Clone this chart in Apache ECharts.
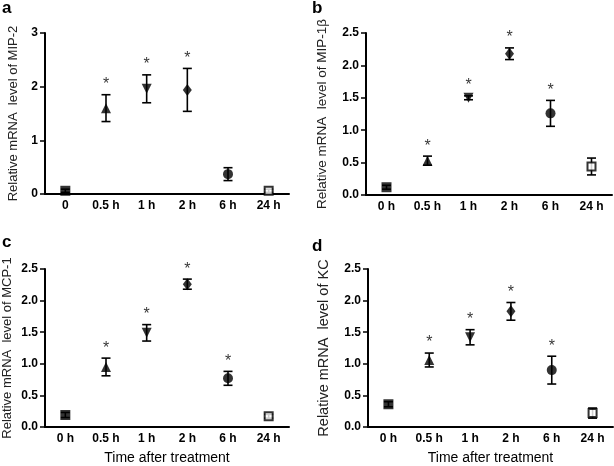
<!DOCTYPE html>
<html><head><meta charset="utf-8">
<script src="https://cdn.jsdelivr.net/npm/echarts@6/dist/echarts.min.js"></script>
<style>html,body{margin:0;padding:0;background:#fff}#c{width:614px;height:466px}</style>
</head><body><div id="c"></div>
<script>
const catsA = ['0','0.5 h','1 h','2 h','6 h','24 h'];
const cats = ['0 h','0.5 h','1 h','2 h','6 h','24 h'];
const mip2Mean = [0.06, 1.60, 1.96, 1.94, 0.37, 0.06];
const mip2Err  = [0.03, 0.25, 0.26, 0.40, 0.12, 0.03];
const mip2Sig  = [0, 1, 1, 1, 0, 0];
const mip1bMean = [0.12, 0.53, 1.50, 2.18, 1.26, 0.44];
const mip1bErr  = [0.03, 0.07, 0.03, 0.09, 0.20, 0.13];
const mip1bSig  = [0, 1, 1, 1, 1, 0];
const mcp1Mean = [0.19, 0.95, 1.49, 2.26, 0.77, 0.17];
const mcp1Err  = [0.04, 0.14, 0.13, 0.08, 0.11, 0.03];
const mcp1Sig  = [0, 1, 1, 1, 1, 0];
const kcMean = [0.36, 1.06, 1.42, 1.83, 0.90, 0.22];
const kcErr  = [0.04, 0.11, 0.12, 0.14, 0.22, 0.08];
const kcSig  = [0, 1, 1, 1, 1, 0];
const symbols = ['rect','triangle','path://M0,0 L10,0 L5,10 Z','diamond','circle','rect'];
const symSizes = [10, 10, 10, [9,12], 10, 8];

const FONT = 'Liberation Sans';
const grids = [
  {left:45, top:33, width:244, height:161},
  {left:366, top:33, width:246, height:162},
  {left:45, top:269, width:244, height:163},
  {left:368, top:269, width:245, height:163}
];
const panels = [
  {cats:catsA, mean:mip2Mean, err:mip2Err, sig:mip2Sig, max:3, interval:1, dec:0, name:'Relative mRNA  level of MIP-2', gap:25, nfs:13, xname:''},
  {cats:cats, mean:mip1bMean, err:mip1bErr, sig:mip1bSig, max:2.5, interval:0.5, dec:1, name:'Relative mRNA  level of MIP-1β', gap:37, nfs:13.5, xname:''},
  {cats:cats, mean:mcp1Mean, err:mcp1Err, sig:mcp1Sig, max:2.5, interval:0.5, dec:1, name:'Relative mRNA  level of MCP-1', gap:31, nfs:13, xname:'Time after treatment'},
  {cats:cats, mean:kcMean, err:kcErr, sig:kcSig, max:2.5, interval:0.5, dec:1, name:'Relative mRNA  level of KC', gap:37, nfs:14.5, xname:'Time after treatment'}
];
const xAxis = [], yAxis = [], series = [];
panels.forEach((p, i) => {
  xAxis.push({type:'category', gridIndex:i, data:p.cats, boundaryGap:true,
    axisLine:{lineStyle:{color:'#000', width:2}}, axisTick:{show:false},
    axisLabel:{color:'#000', fontFamily:FONT, fontWeight:'bold', fontSize:12, margin:6},
    name:p.xname, nameLocation:'middle', nameGap:24,
    nameTextStyle:{color:'#000', fontFamily:FONT, fontSize:14}});
  yAxis.push({type:'value', gridIndex:i, min:0, max:p.max, interval:p.interval,
    axisLine:{show:true, lineStyle:{color:'#000', width:2}},
    axisTick:{show:true, length:5, lineStyle:{color:'#000', width:1.5}},
    splitLine:{show:false},
    axisLabel:{color:'#000', fontFamily:FONT, fontWeight:'bold', fontSize:12, margin:7,
      formatter:v => v.toFixed(p.dec)},
    name:p.name, nameLocation:'middle', nameGap:p.gap,
    nameTextStyle:{color:'#222', fontFamily:FONT, fontSize:p.nfs}});
  // error bars
  series.push({type:'custom', xAxisIndex:i, yAxisIndex:i, z:2,
    data:p.mean.map((m, k) => [k, m - p.err[k], m + p.err[k]]),
    renderItem:(params, api) => {
      const lo = api.coord([api.value(0), api.value(1)]);
      const hi = api.coord([api.value(0), api.value(2)]);
      const w = 4.5;
      const st = {stroke:'#000', lineWidth:1.6};
      return {type:'group', children:[
        {type:'line', shape:{x1:lo[0], y1:lo[1], x2:hi[0], y2:hi[1]}, style:st},
        {type:'line', shape:{x1:lo[0]-w, y1:lo[1], x2:lo[0]+w, y2:lo[1]}, style:st},
        {type:'line', shape:{x1:hi[0]-w, y1:hi[1], x2:hi[0]+w, y2:hi[1]}, style:st}
      ]};
    }});
  // markers
  series.push({type:'scatter', xAxisIndex:i, yAxisIndex:i, z:3,
    data:p.mean.map((m, k) => ({value:[k, m], symbol:symbols[k], symbolSize:symSizes[k],
      itemStyle: k === 5 ? {color:'#fff', borderColor:'#000', borderWidth:2} : {color:'#000'}}))});
  // significance stars
  series.push({type:'scatter', xAxisIndex:i, yAxisIndex:i, z:4, symbolSize:0,
    data:p.mean.map((m, k) => [k, m + p.err[k]]).filter((d, k) => p.sig[k]),
    label:{show:true, position:'top', distance:2, formatter:'*', color:'#000', fontFamily:FONT, fontSize:16}});
});
const chart = echarts.init(document.getElementById('c'), null, {renderer:'canvas'});
chart.setOption({
  animation:false,
  grid:grids,
  xAxis:xAxis, yAxis:yAxis, series:series,
  graphic:[
    {type:'text', left:2, top:0, style:{text:'a', font:'bold 17px "Liberation Sans"', fill:'#000'}},
    {type:'text', left:312, top:0, style:{text:'b', font:'bold 17px "Liberation Sans"', fill:'#000'}},
    {type:'text', left:2, top:234, style:{text:'c', font:'bold 17px "Liberation Sans"', fill:'#000'}},
    {type:'text', left:312, top:238, style:{text:'d', font:'bold 17px "Liberation Sans"', fill:'#000'}}
  ]
});
</script></body></html>
